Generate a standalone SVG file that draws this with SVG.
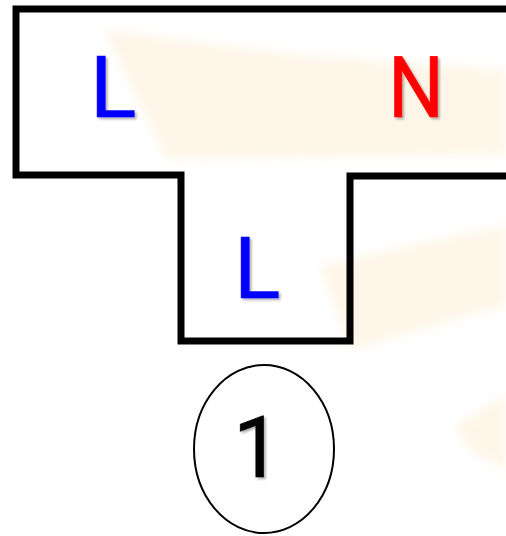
<svg xmlns="http://www.w3.org/2000/svg" width="506" height="536" viewBox="0 0 506 536">
  <defs>
    <filter id="blur" x="-10%" y="-10%" width="120%" height="120%">
      <feGaussianBlur stdDeviation="5"/>
    </filter>
    <filter id="shadow" x="-20%" y="-20%" width="150%" height="150%">
      <feDropShadow dx="2" dy="2" stdDeviation="1.2" flood-color="#000" flood-opacity="0.3"/>
    </filter>
    <style>
      .wall { fill: none; stroke: #000; stroke-width: 7; stroke-linejoin: miter; stroke-linecap: square; }
      .lbl { font-family: Roboto, "Liberation Sans", sans-serif; font-size: 86px; stroke-width: 0.6; filter: url(#shadow); }
      .blue { fill: #0000ff; stroke: #0000ff; }
      .red { fill: #ff0000; stroke: #ff0000; }
      .blk { fill: #000; stroke: #000; }
      .wm { fill: #fbe2b6; opacity: 0.3; filter: url(#blur); }
    </style>
  </defs>
  <rect width="506" height="536" fill="#ffffff"/>
  <g id="watermark">
    <polygon class="wm" points="105,30 300,55 506,70 506,155 165,158"/>
    <polygon class="wm" points="320,265 506,225 506,305 350,350"/>
    <polygon class="wm" points="455,425 506,395 506,470 470,450"/>
  </g>
  <g id="outline">
    <path class="wall" d="M506,9 L16,9 L16,175 L181,175 L181,341 L350,341 L350,176 L506,176"/>
  </g>
  <g id="label-L-top">
    <text class="lbl blue" x="90" y="117">L</text>
  </g>
  <g id="label-N">
    <text class="lbl red" x="388" y="117" textLength="56" lengthAdjust="spacingAndGlyphs">N</text>
  </g>
  <g id="label-L-stem">
    <text class="lbl blue" x="234" y="298">L</text>
  </g>
  <g id="badge-1">
    <ellipse cx="264" cy="449" rx="70" ry="84" fill="none" stroke="#000" stroke-width="2"/>
    <text class="lbl blk" x="233" y="477">1</text>
  </g>
</svg>
